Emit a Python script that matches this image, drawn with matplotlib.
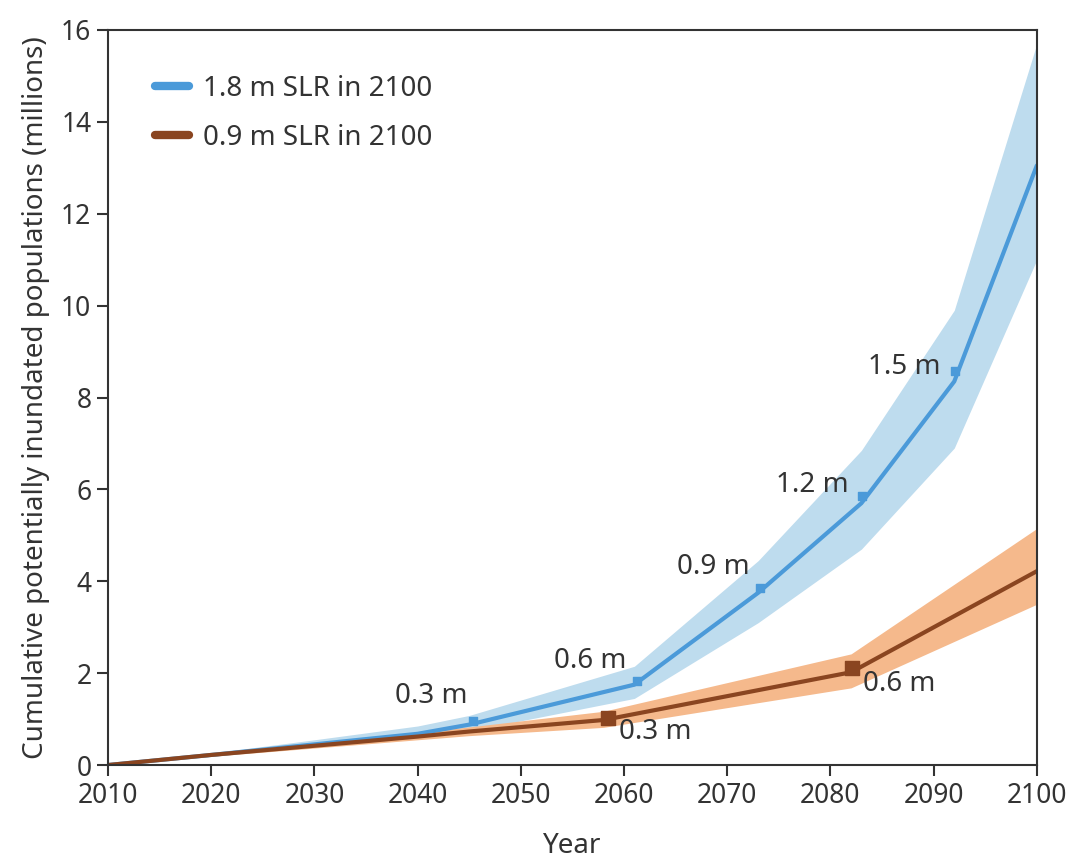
import matplotlib.pyplot as plt
import numpy as np

plt.rcParams['font.family'] = ['Noto Sans', 'DejaVu Sans']

# 1.8 m SLR scenario
anos_azul = [2010, 2020, 2030, 2040, 2045, 2061, 2073, 2083, 2092, 2100]
azul = [0.0, 0.22, 0.45, 0.68, 0.88, 1.75, 3.75, 5.70, 8.35, 13.05]
azul_sup = [0.0, 0.26, 0.55, 0.85, 1.08, 2.15, 4.45, 6.85, 9.90, 15.70]
azul_inf = [0.0, 0.19, 0.40, 0.58, 0.74, 1.45, 3.10, 4.70, 6.90, 11.00]

# 0.9 m SLR scenario
anos_marrom = [2010, 2020, 2030, 2040, 2045, 2058, 2082, 2100]
marrom = [0.0, 0.22, 0.42, 0.62, 0.73, 0.98, 2.02, 4.22]
marrom_sup = [0.0, 0.25, 0.48, 0.70, 0.83, 1.17, 2.42, 5.15]
marrom_inf = [0.0, 0.19, 0.37, 0.55, 0.64, 0.82, 1.68, 3.50]

# marcadores (ano em que o nivel do mar chega a cada valor)
marc_azul_x = [2045.4, 2061.3, 2073.2, 2083.1, 2092.1]
marc_azul_y = [0.95, 1.82, 3.85, 5.85, 8.58]
marc_azul_txt = ['0.3 m', '0.6 m', '0.9 m', '1.2 m', '1.5 m']

marc_marrom_x = [2058.4, 2082.1]
marc_marrom_y = [1.02, 2.12]
marc_marrom_txt = ['0.3 m', '0.6 m']

# deslocamento dos rotulos (pontos)
desl_azul = [(-4, 18), (-8, 15), (-8, 15), (-10, 8), (-11, 3)]
desl_marrom = [(8, -10), (8, -12)]

cor_azul = '#4b9ad9'
cor_azul_f = '#bedcee'
cor_marrom = '#8a4520'
cor_marrom_f = '#f5b98c'
cinza = '#333333'

fig = plt.figure(figsize=(10.7, 8.67), dpi=100)
ax = fig.add_axes([0.101, 0.1176, 0.868, 0.8478])

ax.fill_between(anos_azul, azul_inf, azul_sup, color=cor_azul_f, lw=0)
ax.fill_between(anos_marrom, marrom_inf, marrom_sup, color=cor_marrom_f, lw=0)
ax.plot(anos_azul, azul, color=cor_azul, lw=3, label='1.8 m SLR in 2100', solid_capstyle='round')
ax.plot(anos_marrom, marrom, color=cor_marrom, lw=3, label='0.9 m SLR in 2100', solid_capstyle='round')

ax.scatter(marc_azul_x, marc_azul_y, marker='s', s=40, color=cor_azul, zorder=5)
ax.scatter(marc_marrom_x, marc_marrom_y, marker='s', s=90, color=cor_marrom, zorder=5)

for x, y, t, d in zip(marc_azul_x, marc_azul_y, marc_azul_txt, desl_azul):
    ax.annotate(t, (x, y), xytext=d, textcoords='offset points', ha='right', va='center',
                fontsize=20, color=cinza)
for x, y, t, d in zip(marc_marrom_x, marc_marrom_y, marc_marrom_txt, desl_marrom):
    ax.annotate(t, (x, y), xytext=d, textcoords='offset points', ha='left', va='center',
                fontsize=20, color=cinza)

ax.set_xlim(2010, 2100)
ax.set_ylim(0, 16)
ax.set_xticks(range(2010, 2101, 10))
ax.set_yticks(range(0, 17, 2))
ax.tick_params(direction='out', length=8, width=1.5, labelsize=19, colors=cinza, pad=4)
for s in ax.spines.values():
    s.set_color(cinza)
    s.set_linewidth(1.5)

ax.set_xlabel('Year', fontsize=20, color=cinza, labelpad=16)
ax.set_ylabel('Cumulative potentially inundated populations (millions)', fontsize=20, color=cinza, labelpad=8)

leg = ax.legend(loc='upper left', frameon=False, fontsize=20, handlelength=1.2,
                borderaxespad=0.3, labelspacing=0.75, handletextpad=0.5, bbox_to_anchor=(0.03, 0.965))
for l in leg.get_lines():
    l.set_linewidth(6)
for t in leg.get_texts():
    t.set_color(cinza)

plt.savefig('out.png', dpi=100)
